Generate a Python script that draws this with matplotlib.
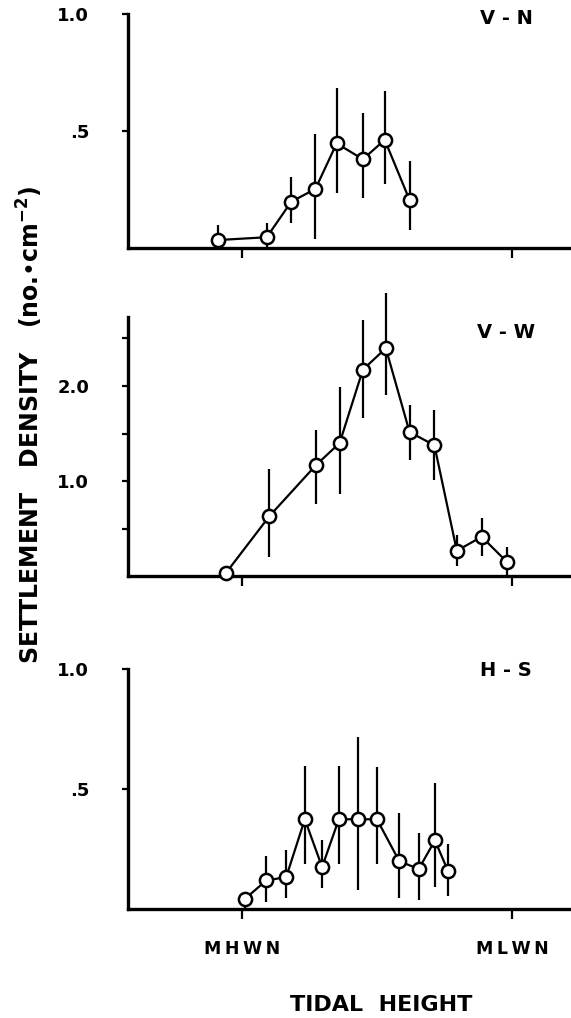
import matplotlib
matplotlib.use('Agg')
import matplotlib.pyplot as plt

plt.rcParams['font.family'] = ['DejaVu Sans']
plt.rcParams['font.weight'] = 'bold'

# Tidal height: 0 = MHWN, 1 = MLWN
vn_x = [-0.087, 0.092, 0.183, 0.272, 0.351, 0.448, 0.529, 0.621]
vn_y = [0.034, 0.046, 0.198, 0.252, 0.447, 0.379, 0.462, 0.205]
vn_lo = [0.0, 0.0, 0.108, 0.037, 0.236, 0.212, 0.272, 0.077]
vn_hi = [0.098, 0.107, 0.305, 0.486, 0.682, 0.576, 0.672, 0.372]

vw_x = [-0.060, 0.102, 0.274, 0.362, 0.448, 0.533, 0.621, 0.713, 0.796, 0.888, 0.981]
vw_y = [0.034, 0.634, 1.168, 1.401, 2.170, 2.396, 1.516, 1.377, 0.270, 0.417, 0.155]
vw_lo = [0.034, 0.207, 0.766, 0.864, 1.660, 1.908, 1.227, 1.010, 0.110, 0.215, 0.0]
vw_hi = [0.034, 1.126, 1.541, 1.988, 2.693, 2.970, 1.796, 1.743, 0.435, 0.616, 0.312]

hs_x = [0.010, 0.090, 0.164, 0.233, 0.297, 0.359, 0.430, 0.500, 0.583, 0.655, 0.715, 0.764]
hs_y = [0.042, 0.120, 0.134, 0.375, 0.176, 0.375, 0.375, 0.375, 0.200, 0.168, 0.287, 0.158]
hs_lo = [0.0, 0.032, 0.046, 0.190, 0.088, 0.190, 0.081, 0.190, 0.046, 0.039, 0.092, 0.056]
hs_hi = [0.042, 0.221, 0.245, 0.597, 0.288, 0.595, 0.718, 0.592, 0.400, 0.316, 0.526, 0.270]

x_ticks = [0, 1]
x_labels = ['M\u2009H\u2009W\u2009N', 'M\u2009L\u2009W\u2009N']

panels = [
    ('V - N', vn_x, vn_y, vn_lo, vn_hi, 1.0, [0.5, 1.0], ['.5', '1.0'], [], [0.7564, 0.2299], 19),
    ('V - W', vw_x, vw_y, vw_lo, vw_hi, 2.72, [1.0, 2.0], ['1.0', '2.0'], [0.5, 1.5, 2.5], [0.4337, 0.2546], 332),
    ('H - S', hs_x, hs_y, hs_lo, hs_hi, 1.0, [0.5, 1.0], ['.5', '1.0'], [], [0.1068, 0.2358], 671),
]

W, H = 571, 1018
fig = plt.figure(figsize=(W / 100, H / 100), dpi=100)

for i, (name, x, y, lo, hi, ytop, yt, ytl, yminor, (b, h), label_y) in enumerate(panels):
    ax = fig.add_axes([128 / W, b, 1 - 128 / W, h])
    ax.vlines(x, lo, hi, color='black', lw=1.6, clip_on=False, zorder=2)
    ax.plot(x, y, '-o', color='black', lw=1.6, ms=9.5, mfc='white', mec='black',
            mew=1.8, clip_on=False, zorder=3)
    ax.set_xlim(-0.422, 1.219)
    ax.set_ylim(0, ytop)
    for s in ['top', 'right']:
        ax.spines[s].set_visible(False)
    for s in ['left', 'bottom']:
        ax.spines[s].set_linewidth(2.4)
    ax.set_xticks(x_ticks)
    ax.set_xticklabels(x_labels if i == 2 else ['', ''], fontsize=12.5, fontweight='bold')
    ax.tick_params(axis='x', length=7, width=1.6, pad=15)
    ax.set_yticks(yt)
    ax.set_yticklabels(ytl, fontsize=13, fontweight='bold')
    ax.set_yticks(yminor, minor=True)
    ax.tick_params(axis='y', which='both', length=4, width=1.6, pad=24)
    fig.text(506 / W, 1 - label_y / H, name, fontsize=14, fontweight='bold',
             ha='center', va='center')

fig.text(30 / W, 1 - 425 / H, 'SETTLEMENT   DENSITY   (no.\u2022cm$^{-2}$)', rotation=90,
         fontsize=17, fontweight='bold', ha='center', va='center')
fig.text(381 / W, 1 - 1005 / H, 'TIDAL  HEIGHT', fontsize=16, fontweight='bold',
         ha='center', va='center')

fig.savefig('out.png', dpi=100)
